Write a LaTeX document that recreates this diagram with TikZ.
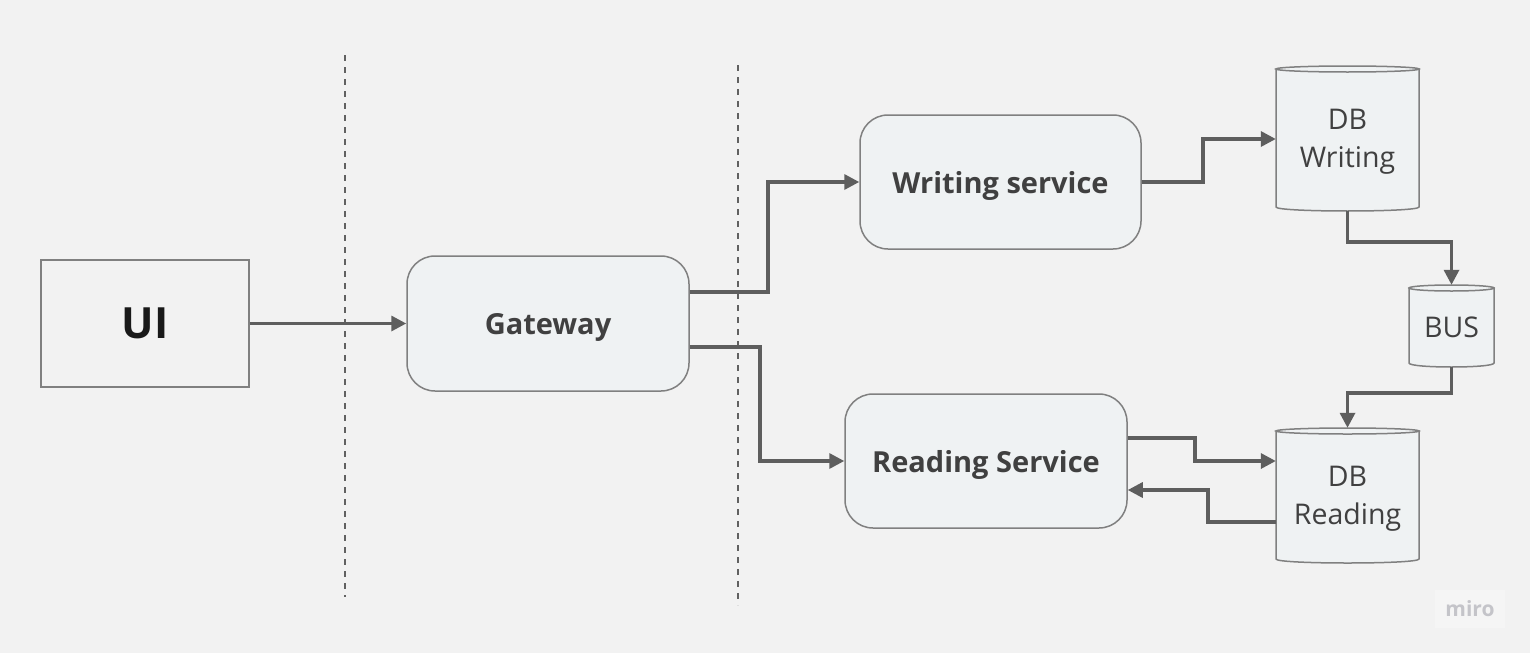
\documentclass[tikz,border=0pt]{standalone}
\usepackage{fontspec}
\setmainfont{Open Sans}
\usetikzlibrary{arrows.meta}
\definecolor{bg}{HTML}{F2F2F2}
\definecolor{boxfill}{HTML}{EFF2F3}
\definecolor{boxline}{HTML}{808080}
\definecolor{arrowc}{HTML}{5E5E5E}
\definecolor{txt}{HTML}{404040}
\definecolor{logotxt}{HTML}{C4C4C9}
\definecolor{logobg}{HTML}{F5F5F5}
\newcommand\drawcyl[4]{%
  \path[cyl] (#1,#2+3) -- (#1,#4-4) .. controls (#1,#4+1.33) and (#3,#4+1.33) .. (#3,#4-4) -- (#3,#2+3) -- cycle;
  \path[cyl] ({(#1+#3)/2},#2+3) ellipse [x radius={(#3-#1)/2}, y radius=3];
}
\begin{document}
\begin{tikzpicture}[x=1pt,y=-1pt,
  svc/.style={draw=boxline, line width=1.5pt, fill=boxfill, rounded corners=28pt, inner sep=0pt,
    text depth=0pt, font=\fontsize{29}{34}\selectfont\bfseries, text=txt},
  uibox/.style={draw=boxline, line width=1.5pt, fill=bg, inner sep=0pt,
    font=\fontsize{43}{50}\selectfont\bfseries, text=black!90},
  dbnode/.style={inner sep=0pt, align=center, text depth=0pt, font=\fontsize{28.5}{38}\selectfont, text=txt},
  conn/.style={draw=arrowc, line width=3.3pt, -{Triangle[length=15pt,width=15pt]}},
  cyl/.style={draw=boxline, line width=1.5pt, fill=boxfill},
  sepline/.style={draw=black!62, line width=1.5pt, dash pattern=on 6pt off 6pt}]
\fill[bg] (0,0) rectangle (1530,653);
\useasboundingbox (0,0) rectangle (1530,653);

% separators
\draw[sepline] (345,55) -- (345,597);
\draw[sepline] (738,65) -- (738,605);

% cylinders
\drawcyl{1276}{66}{1419}{211}
\drawcyl{1409}{285}{1494}{367}
\drawcyl{1276}{428}{1419}{563}

% nodes
\node[uibox, minimum width=208pt, minimum height=127pt] (ui) at (145,323.5) {UI};
\node[svc, minimum width=282pt, minimum height=135pt] (gw) at (548,323.5) {Gateway};
\node[svc, minimum width=281pt, minimum height=134pt] (ws) at (1000.5,182) {Writing service};
\node[svc, minimum width=282pt, minimum height=134pt] (rs) at (986,461) {Reading Service};
\node[dbnode, minimum width=143pt, minimum height=145pt] (dbw) at (1347.5,138.5) {DB\\Writing};
\node[dbnode, minimum width=85pt, minimum height=82pt] (bus) at (1451.5,326) {\raisebox{-3pt}{BUS}};
\node[dbnode, minimum width=143pt, minimum height=135pt] (dbr) at (1347.5,495.5) {DB\\Reading};

% connectors
\draw[conn] (ui.east) -- (gw.west);
\draw[conn] (gw.east |- 0,292) -- (768,292) |- (ws.west);
\draw[conn] (gw.east |- 0,347) -- (760,347) |- (rs.west);
\draw[conn] (ws.east) -- (1203,182) |- (dbw.west |- 0,139);
\draw[conn] (dbw.south) -- (1347.5,242) -| (bus.north);
\draw[conn] (bus.south) -- (1451.5,393) -| (dbr.north);
\draw[conn] (rs.east |- 0,438) -- (1195,438) |- (dbr.west |- 0,461);
\draw[conn] (dbr.west |- 0,522) -- (1208,522) |- (rs.east |- 0,490);

% watermark
\node[fill=logobg, minimum width=70pt, minimum height=38pt, inner sep=0pt,
  font=\fontsize{21}{24}\selectfont\bfseries, text=logotxt] (logo) at (1470,609) {miro};
\end{tikzpicture}
\end{document}
